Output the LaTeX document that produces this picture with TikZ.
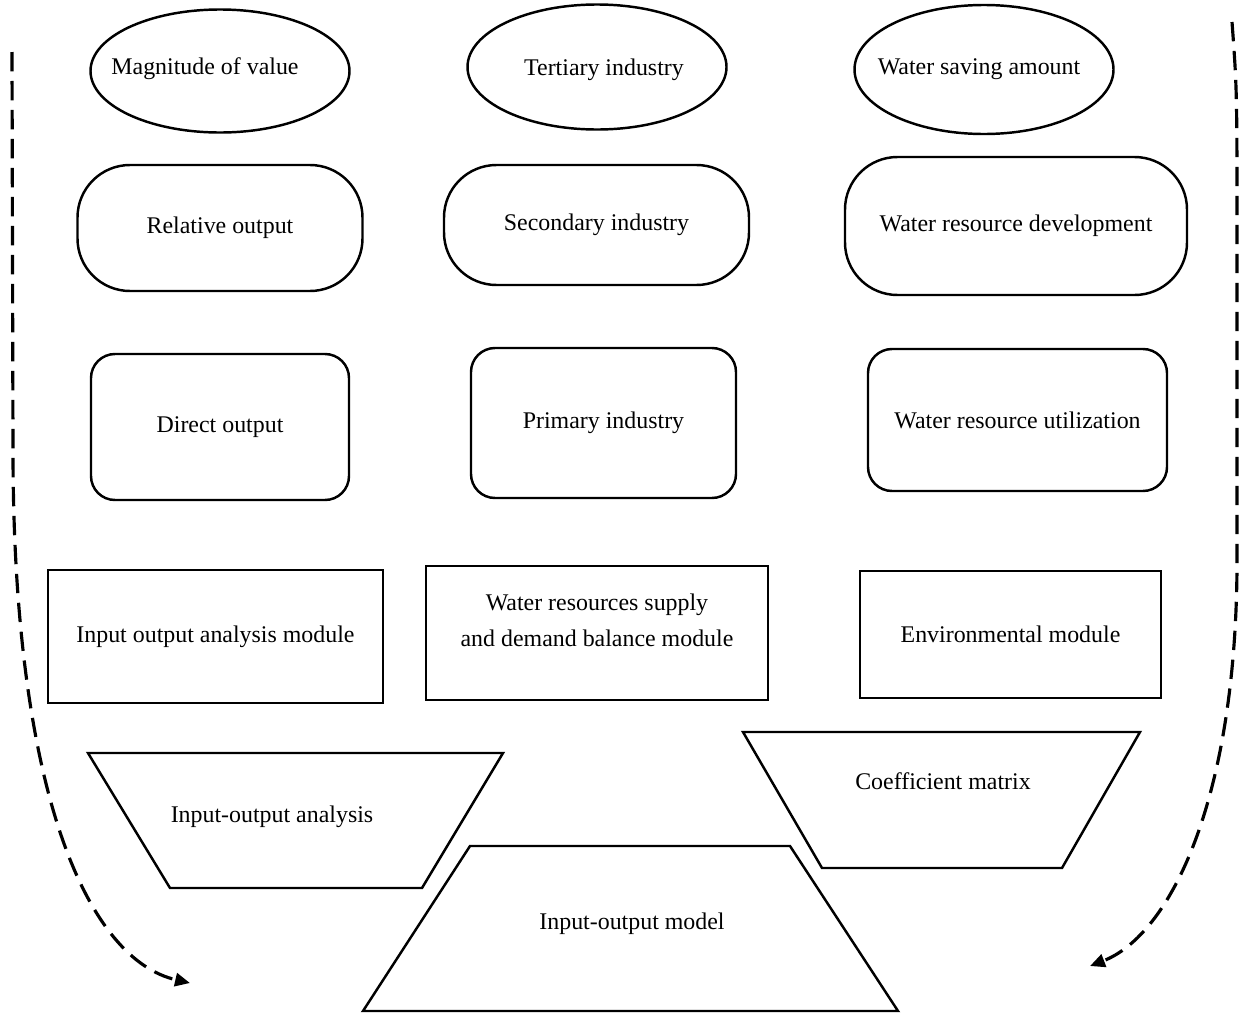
\documentclass[tikz,border=0pt]{standalone}
\usepackage{fontspec}
\setmainfont{Liberation Serif}
\usetikzlibrary{shapes.geometric, arrows.meta}

\begin{document}
\begin{tikzpicture}[
    font=\fontsize{13.6pt}{20.4pt}\selectfont,
    outline/.style={draw, line width=1.4pt, inner sep=2pt, align=center},
    oval/.style={outline, ellipse, minimum width=5.18cm},
    pill/.style={outline, rectangle, rounded corners=1.05cm},
    rbox/.style={outline, rectangle, rounded corners=0.48cm},
    module/.style={outline, rectangle},
    plate/.style={draw, line width=1.4pt},
    loopline/.style={-{Triangle[length=8.5pt, width=7.5pt]}, line width=1.8pt, dash pattern=on 11pt off 5.5pt}
]
\useasboundingbox (0,0) rectangle (24.8,-20.26);

% Indicators
\node[oval, minimum height=2.46cm, label={[xshift=-0.30cm, yshift=0.04cm]center:Magnitude of value}] (mag) at (4.40,-1.42) {};
\node[oval, minimum height=2.50cm, label={[xshift=0.14cm, yshift=-0.05cm]center:Tertiary industry}] (tert) at (11.94,-1.34) {};
\node[oval, minimum height=2.58cm, label={[xshift=-0.10cm, yshift=0.01cm]center:Water saving amount}] (wsave) at (19.68,-1.39) {};

\node[pill, minimum width=5.70cm, minimum height=2.52cm] (rel)  at (4.40,-4.56)  {Relative output};
\node[pill, minimum width=6.10cm, minimum height=2.40cm] (sec)  at (11.93,-4.50) {Secondary industry};
\node[pill, minimum width=6.84cm, minimum height=2.76cm] (wdev) at (20.32,-4.52) {Water resource development};

\node[rbox, minimum width=5.16cm, minimum height=2.92cm] (dir)   at (4.40,-8.54)  {Direct output};
\node[rbox, minimum width=5.30cm, minimum height=3.00cm] (prim)  at (12.07,-8.46) {Primary industry};
\node[rbox, minimum width=5.98cm, minimum height=2.84cm] (wutil) at (20.35,-8.40) {Water resource utilization};

% Modules
\node[module, minimum width=6.70cm, minimum height=2.66cm] (ioam) at (4.31,-12.73) {Input output analysis module};
\node[module, minimum width=6.84cm, minimum height=2.68cm,
      label={[align=center, yshift=0.25cm]center:Water resources supply\\ and demand balance module}] (wsdb) at (11.94,-12.66) {};
\node[module, minimum width=6.02cm, minimum height=2.54cm] (env) at (20.21,-12.69) {Environmental module};

% Model base
\draw[plate] (1.76,-15.06) -- (10.06,-15.06) -- (8.44,-17.76) -- (3.40,-17.76) -- cycle;
\draw[plate] (14.86,-14.64) -- (22.80,-14.64) -- (21.24,-17.36) -- (16.44,-17.36) -- cycle;
\draw[plate] (9.40,-16.92) -- (15.80,-16.92) -- (17.96,-20.22) -- (7.26,-20.22) -- cycle;
\node (ioa)  at (5.44,-16.34)  {Input-output analysis};
\node (coef) at (18.86,-15.62) {Coefficient matrix};
\node (iom)  at (12.64,-18.48) {Input-output model};

% Feedback loops
\coordinate (lstart) at (0.24,-1.04);
\coordinate (lend)   at (3.80,-19.66);
\coordinate (rstart) at (24.64,-0.44);
\coordinate (rend)   at (21.80,-19.32);
\draw[loopline] (lstart) -- (0.26,-9.00) .. controls (0.26,-16.00) and (1.80,-19.20) .. (lend);
\draw[loopline] (rstart) .. controls (24.74,-1.80) .. (24.74,-5.00) -- (24.74,-11.20)
    .. controls (24.74,-16.00) and (23.40,-18.70) .. (rend);
\end{tikzpicture}
\end{document}
